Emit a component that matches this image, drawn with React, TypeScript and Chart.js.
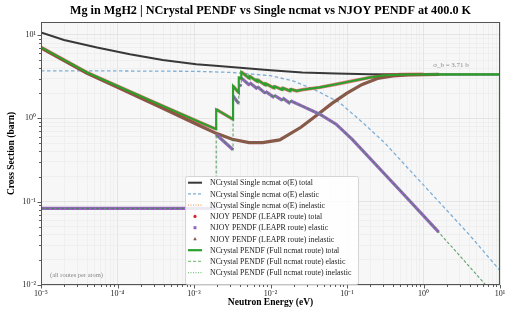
import React, { useEffect, useRef } from "react";
import { Chart, registerables } from "chart.js";
Chart.register(...registerables);

const TITLE = "Mg in MgH2 | NCrystal PENDF vs Single ncmat vs NJOY PENDF at 400.0 K";
const X_LABEL = "Neutron Energy (eV)";
const Y_LABEL = "Cross Section (barn)";
const NOTE = "(all routes per atom)";
const SIGMA_NOTE = "σ_b = 3.71 b";

const xMajor = [1e-5, 1e-4, 1e-3, 1e-2, 1e-1, 1, 10];
const xTickLabels = ["10⁻⁵", "10⁻⁴", "10⁻³", "10⁻²", "10⁻¹", "10⁰", "10¹"];
const yMajor = [1e-2, 1e-1, 1, 10];
const yTickLabels = ["10⁻²", "10⁻¹", "10⁰", "10¹"];
const X_MIN = 1e-5, X_MAX = 10, Y_MIN = 1e-2, Y_MAX = 14.3;

// NCrystal single ncmat
const singleTotalE = [1e-5, 2e-5, 5.4e-5, 1.45e-4, 3.9e-4, 1.07e-3, 2.1e-3, 1e-2, 2.6e-2, 7.2e-2, 0.195, 1, 10];
const singleTotal = [10.7, 8.7, 7.06, 5.86, 5.01, 4.45, 4.25, 3.77, 3.54, 3.44, 3.37, 3.36, 3.36];
const singleElasticE = [1e-5, 1e-4, 1e-3, 3.16e-3, 1e-2, 2e-2, 3.98e-2, 7.94e-2, 0.158, 0.316, 0.631, 1.585, 3.98, 10];
const singleElastic = [3.71, 3.70, 3.66, 3.55, 3.25, 2.8, 2.15, 1.55, 0.9, 0.5, 0.25, 0.1, 0.04, 0.0149];

// inelastic (shared shape by all routes)
const inelasticE = [1e-5, 4e-5, 1e-4, 3.9e-4, 1.17e-3, 1.95e-3, 3.16e-3, 5.25e-3, 7.9e-3, 1.32e-2, 2.5e-2, 3.98e-2, 6.3e-2, 0.1, 0.158, 0.25, 0.4, 0.63, 1.0, 1.6, 10];
const inelastic = [7.0, 3.46, 2.36, 1.32, 0.82, 0.66, 0.56, 0.51, 0.51, 0.55, 0.78, 1.08, 1.5, 2.0, 2.55, 3.0, 3.22, 3.31, 3.35, 3.36, 3.37];

// NCrystal PENDF (full ncmat route)
const pendfTotalE = [1e-5, 4e-5, 1e-4, 3.9e-4, 1.17e-3, 1.95e-3, 1.95e-3, 3.24e-3, 3.24e-3, 3.85e-3, 3.85e-3, 4.15e-3, 4.15e-3, 5.31e-3, 5.31e-3, 6.76e-3, 6.76e-3, 8.58e-3, 8.58e-3, 1.12e-2, 1.12e-2, 1.43e-2, 1.43e-2, 1.82e-2, 1.82e-2, 2.19e-2, 2.6e-2, 4.4e-2, 7.2e-2, 0.117, 0.195, 0.3, 0.5, 1, 10, 10];
const pendfTotal = [7.1, 3.54, 2.44, 1.40, 0.90, 0.74, 1.28, 0.97, 2.44, 2.03, 3.08, 3.0, 3.6, 3.0, 3.2, 2.75, 2.9, 2.5, 2.62, 2.3, 2.42, 2.2, 2.32, 2.12, 2.24, 2.13, 2.2, 2.35, 2.56, 2.8, 3.08, 3.27, 3.35, 3.37, 3.37, 0.001];
const pendfElasticE = [1e-5, 1.95e-3, 1.95e-3, 3.24e-3, 3.24e-3, 3.85e-3, 3.85e-3, 4.15e-3, 4.15e-3, 5.31e-3, 5.31e-3, 6.76e-3, 6.76e-3, 8.58e-3, 8.58e-3, 1.12e-2, 1.12e-2, 1.43e-2, 1.43e-2, 1.82e-2, 1.82e-2, 2.6e-2, 4.4e-2, 7.2e-2, 0.117, 0.48, 1.58, 6.46, 10];
const pendfElastic = [0.083, 0.083, 0.64, 0.42, 1.85, 1.5, 2.53, 2.45, 3.05, 2.49, 2.69, 2.24, 2.39, 1.99, 2.11, 1.77, 1.89, 1.64, 1.76, 1.50, 1.62, 1.40, 1.12, 0.85, 0.56, 0.14, 0.043, 0.0101, 0.01];

// NJOY PENDF (LEAPR route) covers up to this energy
const NJOY_EMAX = 1.6;

const pts = (E: number[], S: number[], emax = Infinity) =>
  E.map((x, i) => ({ x, y: S[i] })).filter((p) => p.x <= emax);

const C = {
  black: "#383838",
  blue: "#7eaed6",
  orange: "#f4a460",
  red: "#d62728",
  purple: "#9467bd",
  brown: "#8c564b",
  green: "#2ca02c",
};

const SERIF = "'Liberation Serif', 'Times New Roman', serif";

const legendItems = [
  { label: "NCrystal Single ncmat σ(E) total", kind: "line", color: C.black, width: 2, dash: [] as number[] },
  { label: "NCrystal Single ncmat σ(E) elastic", kind: "line", color: C.blue, width: 1.3, dash: [3, 2] },
  { label: "NCrystal Single ncmat σ(E) inelastic", kind: "line", color: C.orange, width: 1.2, dash: [1, 1.5] },
  { label: "NJOY PENDF (LEAPR route) total", kind: "circle", color: C.red, width: 1, dash: [] },
  { label: "NJOY PENDF (LEAPR route) elastic", kind: "square", color: C.purple, width: 1, dash: [] },
  { label: "NJOY PENDF (LEAPR route) inelastic", kind: "triangle", color: C.brown, width: 1, dash: [] },
  { label: "NCrystal PENDF (Full ncmat route) total", kind: "line", color: C.green, width: 2.2, dash: [] },
  { label: "NCrystal PENDF (Full ncmat route) elastic", kind: "line", color: "rgba(44,160,44,0.6)", width: 1.3, dash: [3, 2] },
  { label: "NCrystal PENDF (Full ncmat route) inelastic", kind: "line", color: "rgba(44,160,44,0.6)", width: 1.2, dash: [1, 1.5] },
];

const buildTicks = (major: number[], max: number) => {
  const out: { value: number; major: boolean }[] = [];
  for (let i = 0; i < major.length; i++) {
    out.push({ value: major[i], major: true });
    if (i < major.length - 1) {
      for (let m = 2; m <= 9; m++) out.push({ value: major[i] * m, major: false });
    }
  }
  const top = major[major.length - 1];
  for (let m = 2; m <= 9; m++) if (top * m <= max) out.push({ value: top * m, major: false });
  return out;
};

const labelFor = (major: number[], labels: string[]) => (v: any) => {
  const i = major.findIndex((m) => Math.abs(m - v) / m < 1e-6);
  return i >= 0 ? labels[i] : "";
};

const overlay = {
  id: "overlay",
  beforeDraw(chart: any) {
    const { ctx, chartArea: a } = chart;
    ctx.save();
    ctx.fillStyle = "#ffffff";
    ctx.fillRect(0, 0, chart.width, chart.height);
    ctx.fillStyle = "#f7f7f7";
    ctx.fillRect(a.left, a.top, a.right - a.left, a.bottom - a.top);
    ctx.restore();
  },
  afterDraw(chart: any) {
    const { ctx, chartArea: a } = chart;
    const xs = chart.scales.x, ys = chart.scales.y;
    ctx.save();
    // frame
    ctx.strokeStyle = "#555";
    ctx.lineWidth = 1;
    ctx.strokeRect(a.left + 0.5, a.top + 0.5, a.right - a.left - 1, a.bottom - a.top - 1);
    // tick marks
    ctx.strokeStyle = "#333";
    ctx.lineWidth = 0.8;
    ctx.beginPath();
    for (const t of xs.ticks) {
      const px = Math.round(xs.getPixelForValue(t.value)) + 0.5;
      const len = t.major ? 3.5 : 2;
      ctx.moveTo(px, a.bottom);
      ctx.lineTo(px, a.bottom + len);
    }
    for (const t of ys.ticks) {
      if (t.value > Y_MAX) continue;
      const py = Math.round(ys.getPixelForValue(t.value)) + 0.5;
      const len = t.major ? 3.5 : 2;
      ctx.moveTo(a.left, py);
      ctx.lineTo(a.left - len, py);
    }
    ctx.stroke();

    // title
    ctx.fillStyle = "#000";
    ctx.textAlign = "center";
    ctx.textBaseline = "middle";
    ctx.font = `bold 12.2px ${SERIF}`;
    ctx.fillText(TITLE, (a.left + a.right) / 2, 10.5);
    // axis titles
    ctx.font = `bold 9.5px ${SERIF}`;
    ctx.fillText(X_LABEL, (a.left + a.right) / 2, 303);
    ctx.save();
    ctx.translate(12, (a.top + a.bottom) / 2);
    ctx.rotate(-Math.PI / 2);
    ctx.fillText(Y_LABEL, 0, 0);
    ctx.restore();

    // notes
    ctx.fillStyle = "#888";
    ctx.font = `6.5px ${SERIF}`;
    ctx.textAlign = "left";
    ctx.fillText(NOTE, a.left + 9, a.bottom - 10);
    ctx.font = `7px ${SERIF}`;
    ctx.textAlign = "center";
    ctx.fillText(SIGMA_NOTE, 451, 65);

    // legend
    const lx = 185, ly = 176, lw = 173, lh = 108;
    ctx.fillStyle = "rgba(255,255,255,0.85)";
    ctx.strokeStyle = "#cccccc";
    ctx.lineWidth = 0.8;
    ctx.beginPath();
    if ((ctx as any).roundRect) (ctx as any).roundRect(lx + 0.5, ly + 0.5, lw, lh, 2);
    else ctx.rect(lx + 0.5, ly + 0.5, lw, lh);
    ctx.fill();
    ctx.stroke();
    ctx.font = `7.8px ${SERIF}`;
    ctx.textAlign = "left";
    ctx.textBaseline = "middle";
    legendItems.forEach((it, i) => {
      const cy = 182.7 + i * 11.25;
      const x0 = 188, x1 = 202, cx = 195;
      ctx.save();
      ctx.strokeStyle = it.color;
      ctx.fillStyle = it.color;
      if (it.kind === "line") {
        ctx.lineWidth = it.width;
        ctx.setLineDash(it.dash);
        ctx.beginPath();
        ctx.moveTo(x0, cy);
        ctx.lineTo(x1, cy);
        ctx.stroke();
      } else if (it.kind === "circle") {
        ctx.beginPath();
        ctx.arc(cx, cy, 1.6, 0, Math.PI * 2);
        ctx.fill();
      } else if (it.kind === "square") {
        ctx.fillRect(cx - 1.5, cy - 1.5, 3, 3);
      } else {
        ctx.beginPath();
        ctx.moveTo(cx, cy - 2);
        ctx.lineTo(cx + 1.8, cy + 1.3);
        ctx.lineTo(cx - 1.8, cy + 1.3);
        ctx.closePath();
        ctx.fill();
      }
      ctx.restore();
      ctx.fillStyle = "#222";
      ctx.fillText(it.label, 210, cy + 0.5);
    });
    ctx.restore();
  },
};

const line = (label: string, data: any[], color: string, width: number, dash: number[] = []) => ({
  label,
  data,
  showLine: true,
  pointRadius: 0,
  borderColor: color,
  backgroundColor: color,
  borderWidth: width,
  borderDash: dash,
  fill: false,
  tension: 0,
});

// NJOY data are drawn as dense markers: no connecting vertical jumps
const markerLike = (ds: any) => ({
  ...ds,
  segment: {
    borderColor: (c: any) => (c.p0.parsed.x === c.p1.parsed.x ? "rgba(0,0,0,0)" : undefined),
  },
});

export default function App() {
  const ref = useRef<HTMLCanvasElement>(null);
  useEffect(() => {
    document.body.style.margin = "0";
    const canvas = ref.current!;
    const datasets = [
      // listed top-most first (Chart.js draws index 0 last)
      line("NCrystal PENDF (Full ncmat route) elastic", pts(pendfElasticE, pendfElastic), "rgba(60,140,70,0.8)", 1.1, [3, 2]),
      line("NCrystal PENDF (Full ncmat route) inelastic", pts(inelasticE, inelastic), "rgba(44,160,44,0.5)", 1, [1, 2]),
      line("NCrystal PENDF (Full ncmat route) total", pts(pendfTotalE, pendfTotal), C.green, 2.2),
      markerLike(line("NJOY PENDF (LEAPR route) total", pts(pendfTotalE, pendfTotal, NJOY_EMAX), "rgba(214,39,40,0.6)", 3.4)),
      markerLike(line("NJOY PENDF (LEAPR route) elastic", pts(pendfElasticE, pendfElastic, NJOY_EMAX), C.purple, 3.2)),
      markerLike(line("NJOY PENDF (LEAPR route) inelastic", pts(inelasticE, inelastic, NJOY_EMAX), C.brown, 3.2)),
      line("NCrystal Single ncmat σ(E) inelastic", pts(inelasticE, inelastic), C.orange, 1.2, [1, 1.5]),
      line("NCrystal Single ncmat σ(E) elastic", pts(singleElasticE, singleElastic), C.blue, 1.3, [3.5, 2.5]),
      line("NCrystal Single ncmat σ(E) total", pts(singleTotalE, singleTotal), C.black, 2),
    ];
    const chart = new Chart(canvas, {
      type: "scatter",
      data: { datasets },
      options: {
        responsive: false,
        animation: false,
        events: [],
        layout: { padding: { top: 22, right: 6, left: 0, bottom: 0 } },
        plugins: { legend: { display: false }, tooltip: { enabled: false }, title: { display: false } },
        scales: {
          x: {
            type: "logarithmic",
            min: X_MIN,
            max: X_MAX,
            afterBuildTicks: (s: any) => { s.ticks = buildTicks(xMajor, X_MAX); },
            afterFit: (s: any) => { s.height = 25; s.paddingLeft = 0; s.paddingRight = 0; },
            border: { display: false },
            grid: {
              drawTicks: false,
              color: (c: any) => (c.tick && c.tick.major ? "#dedede" : "#ececec"),
              lineWidth: 0.8,
            },
            ticks: {
              autoSkip: false,
              maxRotation: 0,
              minRotation: 0,
              padding: 4,
              color: "#222",
              font: { family: SERIF, size: 8 },
              callback: labelFor(xMajor, xTickLabels),
            },
          },
          y: {
            type: "logarithmic",
            min: Y_MIN,
            max: Y_MAX,
            afterBuildTicks: (s: any) => { s.ticks = buildTicks(yMajor, Y_MAX); },
            afterFit: (s: any) => { s.width = 41; s.paddingTop = 0; s.paddingBottom = 0; },
            border: { display: false },
            grid: {
              drawTicks: false,
              color: (c: any) => (c.tick && c.tick.major ? "#dedede" : "#ececec"),
              lineWidth: 0.8,
            },
            ticks: {
              autoSkip: false,
              padding: 5,
              color: "#222",
              font: { family: SERIF, size: 8 },
              callback: labelFor(yMajor, yTickLabels),
            },
          },
        },
      },
      plugins: [overlay],
    } as any);
    return () => chart.destroy();
  }, []);
  return (
    <div style={{ width: 506, height: 310 }}>
      <canvas ref={ref} width={506} height={310} style={{ display: "block", width: 506, height: 310 }} />
    </div>
  );
}
